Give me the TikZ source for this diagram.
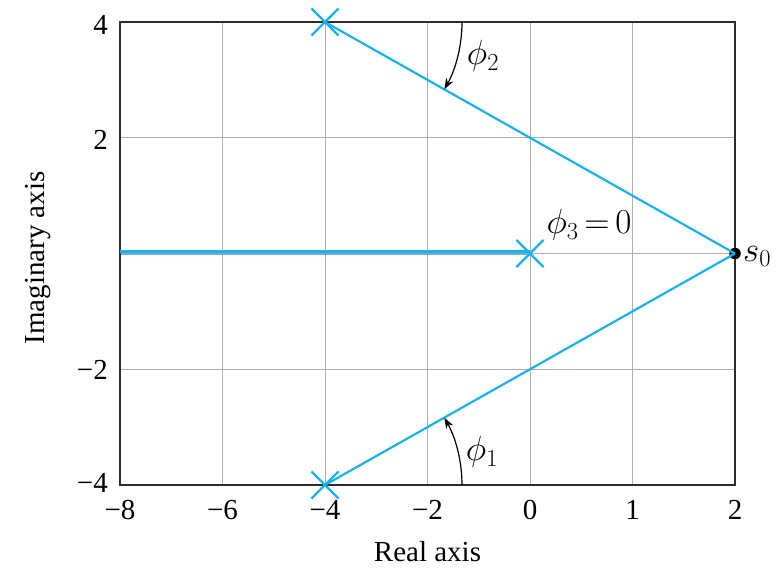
\RequirePackage{fix-cm}
\documentclass[tikz,border=0pt]{standalone}
\usepackage{fontspec}
\setmainfont{Liberation Serif}
\usetikzlibrary{shapes.misc,arrows.meta}
\definecolor{locus}{RGB}{25,178,235}
\definecolor{gridgray}{RGB}{175,175,175}
\definecolor{framecol}{RGB}{45,45,45}
\begin{document}
\begin{tikzpicture}[x=1pt,y=-1pt,
  every node/.style={font=\fontsize{29}{34}\selectfont},
  mathlab/.style={font=\fontsize{35}{40}\selectfont},
  gridline/.style={draw=gridgray,line width=1pt},
  framebox/.style={draw=framecol,line width=1.8pt},
  locusline/.style={draw=locus,line width=2.2pt},
  pole/.style={cross out,draw=locus,line width=2.2pt,minimum size=25pt,inner sep=0pt},
  anglearrow/.style={draw=black,line width=1.2pt,-{Stealth[length=11pt,width=8pt]}},
  ticklab/.style={inner sep=2pt}]
\useasboundingbox (0,0) rectangle (777,568);
% grid
\foreach \x in {222.5,325,427.5,530,632.5}
  \draw[gridline] (\x,22) -- (\x,485);
\foreach \y in {137.75,369.25}
  \draw[gridline] (120,\y) -- (735,\y);
\draw[gridline] (530,253.5) -- (735,253.5);
\draw[draw=gridgray!60!locus,line width=1.6pt] (120,253.8) -- (530,253.8);
% frame
\draw[framebox] (120,22) rectangle (735,485);
% nodes
\node[pole] (p2) at (325,22) {};
\node[pole] (p1) at (325,485) {};
\node[pole] (p3) at (530,253.5) {};
\coordinate (far) at (120,251.6);
\node[circle,fill=black,inner sep=0pt,minimum size=11.5pt] (s0) at (735,253.5) {};
\node[mathlab,anchor=west,inner sep=2pt] (s0lab) at ([yshift=-3pt]s0.east) {$s_0$};
% connectors
\draw[locusline] (p2.center) -- (s0.center);
\draw[locusline] (p1.center) -- (s0.center);
\draw[draw=locus,line width=3.6pt] (far) -- (far -| p3.center);
% angle arcs
\draw[anglearrow] (462,22) arc[start angle=0,end angle=29.4,radius=137];
\draw[anglearrow] (462,485) arc[start angle=0,end angle=-29.4,radius=137];
\node[mathlab] (phi2) at (483,56) {$\phi_2$};
\node[mathlab] (phi1) at (482,452) {$\phi_1$};
\node[mathlab,fill=white,inner sep=1pt] (phi3) at (589,225) {$\phi_3\,{=}\,0$};
% tick labels
\node[ticklab,anchor=east] (y4) at (110,25) {4};
\node[ticklab,anchor=east] (y2) at (110,140) {2};
\node[ticklab,anchor=east] (ym2) at (110,370) {−2};
\node[ticklab,anchor=east] (ym4) at (110,483) {−4};
\node[ticklab] (xm8) at (120,510) {−8};
\node[ticklab] (xm6) at (222.5,510) {−6};
\node[ticklab] (xm4) at (325,510) {−4};
\node[ticklab] (xm2) at (427.5,510) {−2};
\node[ticklab] (x0) at (530,510) {0};
\node[ticklab] (x1) at (632.5,510) {1};
\node[ticklab] (x2) at (735,510) {2};
\node (xlab) at (427.5,552) {Real axis};
\node[rotate=90] (ylab) at (38,258) {Imaginary axis};
\end{tikzpicture}
\end{document}
